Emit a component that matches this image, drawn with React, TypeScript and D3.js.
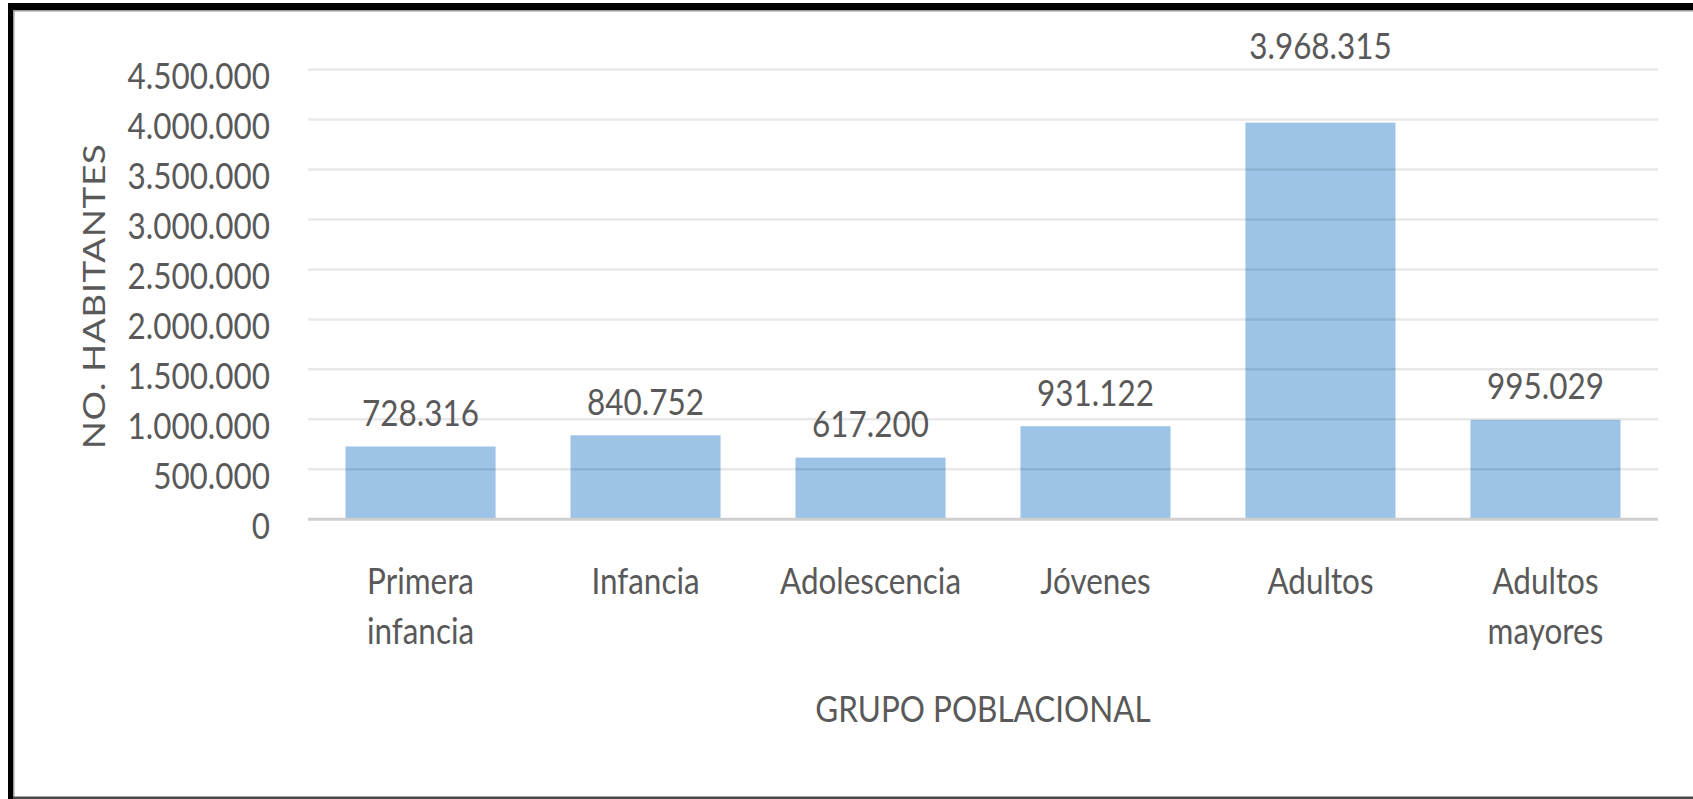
import React from "react";
import * as d3 from "d3";

const categories = ["Primera infancia", "Infancia", "Adolescencia", "Jóvenes", "Adultos", "Adultos mayores"];
const values = [728316, 840752, 617200, 931122, 3968315, 995029];
const yTicks = [0, 500000, 1000000, 1500000, 2000000, 2500000, 3000000, 3500000, 4000000, 4500000];
const xTitle = "GRUPO POBLACIONAL";
const yTitle = "NO. HABITANTES";

const W = 1693;
const H = 799;
const FONT = "Lato, 'Open Sans', sans-serif";
const FS = 37;
const SX = 0.85;
const TEXT = "#595959";

const locale = d3.formatLocale({ decimal: ",", thousands: ".", grouping: [3], currency: ["$", ""] });
const fmt = locale.format(",d");

function T(props: { x: number; y: number; anchor?: string; children: any; rotate?: boolean; ls?: number }) {
  const { x, y, anchor = "middle", children, rotate, ls } = props;
  return (
    <text
      transform={`translate(${x},${y}) scale(${SX},1)${rotate ? " rotate(-90)" : ""}`}
      textAnchor={anchor}
      fontFamily={FONT}
      fontSize={FS}
      fill={TEXT}
      letterSpacing={ls}
    >
      {children}
    </text>
  );
}

export default function App() {
  const left = 308;
  const right = 1658;
  const x = d3.scaleBand<string>().domain(categories).range([left, right]).paddingInner(0.333).paddingOuter(0.1667);
  const y = d3.scaleLinear().domain([0, 4500000]).range([519.3, 69.5]);
  const yMax = d3.max(yTicks) as number;
  const vMax = d3.max(values) as number;

  return (
    <div style={{ position: "absolute", left: 0, top: 0, width: W, height: H, background: "#fff" }}>
      <svg width={W} height={H} style={{ display: "block" }}>
        <rect x={0} y={0} width={W} height={H} fill="#fff" />
        {/* frame */}
        <rect x={8} y={3} width={W - 8} height={7} fill="#000" />
        <rect x={13} y={10} width={W - 13} height={1.5} fill="#9a9a9a" />
        <rect x={8} y={3} width={5} height={H - 3} fill="#000" />
        <rect x={13} y={10} width={1.5} height={H - 10} fill="#9a9a9a" />
        <rect x={13} y={796.5} width={W - 13} height={2.5} fill="#4a4a4a" />

        {/* bars */}
        {categories.map((c, i) => (
          <rect key={c} x={x(c)} y={y(values[i])} width={x.bandwidth()} height={y(0) - y(values[i])} fill="#9DC3E6" />
        ))}

        {/* gridlines */}
        {yTicks.filter((t) => t !== 0).map((t) => (
          <line key={t} x1={left} x2={right} y1={y(t)} y2={y(t)} stroke="#000" strokeOpacity={0.09} strokeWidth={2.5} />
        ))}
        <line x1={left} x2={right} y1={y(0)} y2={y(0)} stroke="#cfcfcf" strokeWidth={3} />

        {/* y tick labels */}
        {yTicks.map((t) => (
          <T key={t} x={270} y={y(t) + 19.5} anchor="end">
            {fmt(t)}
          </T>
        ))}

        {/* data labels */}
        {categories.map((c, i) => {
          const cx = (x(c) as number) + x.bandwidth() / 2;
          const ly = values[i] === vMax ? y(yMax) - 11 : y(values[i]) - 20.5;
          return (
            <T key={c} x={cx} y={ly}>
              {fmt(values[i])}
            </T>
          );
        })}

        {/* category labels */}
        {categories.map((c) => {
          const cx = (x(c) as number) + x.bandwidth() / 2;
          const lines = c.split(" ");
          return lines.map((ln, j) => (
            <T key={c + j} x={cx} y={593.5 + j * 50}>
              {ln}
            </T>
          ));
        })}

        {/* axis titles */}
        <T x={(left + right) / 2} y={721.7}>
          {xTitle}
        </T>
        <T x={105} y={(y(0) + y(yMax)) / 2 + 2} rotate ls={0.5}>
          {yTitle}
        </T>
      </svg>
    </div>
  );
}
